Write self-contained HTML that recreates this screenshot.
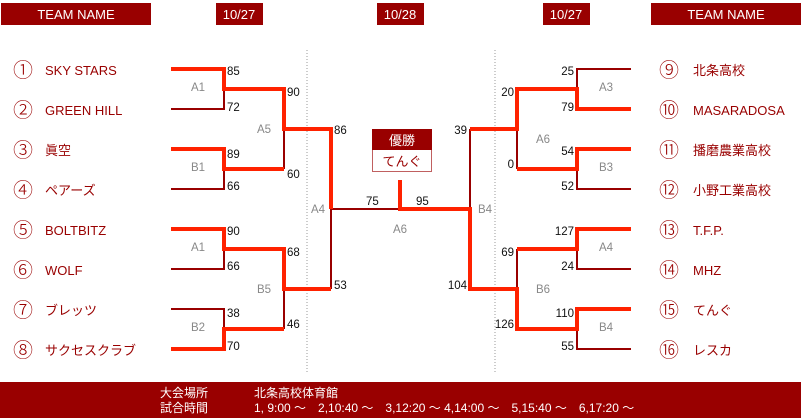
<!DOCTYPE html>
<html><head><meta charset="utf-8"><style>
html,body{margin:0;padding:0;background:#fff;width:801px;height:418px;overflow:hidden}
svg{display:block;font-family:"Liberation Sans","Noto Sans CJK JP",sans-serif}
.t{fill:#990000;font-size:13px}
.c{fill:#990000;font-size:20px;font-family:"Noto Sans CJK JP",sans-serif;font-weight:300}
.s{fill:#111;font-size:11.5px}
.g{fill:#888;font-size:11.5px}
.h{fill:#fff;font-size:13px}
.d{fill:none;stroke:#990000;stroke-width:2}
.r{fill:none;stroke:#ff2200;stroke-width:4}
</style></head><body>
<svg width="801" height="418" viewBox="0 0 801 418">
<rect x="1" y="3" width="150" height="22" fill="#990000"/>
<text x="76" y="19" class="h" text-anchor="middle">TEAM NAME</text>
<rect x="216" y="3" width="47" height="22" fill="#990000"/>
<text x="239" y="19" class="h" text-anchor="middle">10/27</text>
<rect x="377" y="3" width="47" height="22" fill="#990000"/>
<text x="400" y="19" class="h" text-anchor="middle">10/28</text>
<rect x="543" y="3" width="47" height="22" fill="#990000"/>
<text x="566" y="19" class="h" text-anchor="middle">10/27</text>
<rect x="651" y="3" width="150" height="22" fill="#990000"/>
<text x="726" y="19" class="h" text-anchor="middle">TEAM NAME</text>

<line x1="307" y1="50" x2="307" y2="372" stroke="#999" stroke-dasharray="1,2"/>
<line x1="495" y1="50" x2="495" y2="372" stroke="#999" stroke-dasharray="1,2"/>

<path class="d" d="M171 69H224V109H171M224 89H284 M171 149H224V189H171M224 169H284 M171 229H224V269H171M224 249H284 M171 309H224V349H171M224 329H284 M284 89V169M284 129H331 M284 249V329M284 289H331 M331 129V289M331 209H470 M631 69H577V109H631M577 89H517 M631 149H577V189H631M577 169H517 M631 229H577V269H631M577 249H517 M631 309H577V349H631M577 329H517 M517 89V169M517 129H470 M517 249V329M517 289H470 M470 129V289"/>
<path class="r" d="M171 69H224V89H284V129H331V209"/>
<path class="r" d="M171 149H224V169H284"/>
<path class="r" d="M171 229H224V249H284V289H331"/>
<path class="r" d="M171 349H224V329H284"/>
<path class="r" d="M400 180V209H470V289H517V329H577V309H631"/>
<path class="r" d="M631 109H577V89H517V129H470"/>
<path class="r" d="M631 149H577V169H517"/>
<path class="r" d="M631 229H577V249H517"/>

<rect x="372.5" y="129.5" width="59" height="42" fill="#fff" stroke="#c06060"/>
<rect x="372" y="129" width="60" height="21" fill="#990000"/>
<text x="402" y="145" class="h" text-anchor="middle">優勝</text>
<text x="402" y="166" class="t" text-anchor="middle">てんぐ</text>

<g class="c" text-anchor="middle">
<text x="23" y="77">①</text><text x="23" y="117">②</text><text x="23" y="157">③</text><text x="23" y="197">④</text>
<text x="23" y="237">⑤</text><text x="23" y="277">⑥</text><text x="23" y="317">⑦</text><text x="23" y="357">⑧</text>
<text x="669" y="77">⑨</text><text x="669" y="117">⑩</text><text x="669" y="157">⑪</text><text x="669" y="197">⑫</text>
<text x="669" y="237">⑬</text><text x="669" y="277">⑭</text><text x="669" y="317">⑮</text><text x="669" y="357">⑯</text>
</g>
<g class="t">
<text x="45" y="75">SKY STARS</text><text x="45" y="115">GREEN HILL</text><text x="45" y="155">眞空</text><text x="45" y="195">ペアーズ</text>
<text x="45" y="235">BOLTBITZ</text><text x="45" y="275">WOLF</text><text x="45" y="315">ブレッツ</text><text x="45" y="355">サクセスクラブ</text>
<text x="693" y="75">北条高校</text><text x="693" y="115">MASARADOSA</text><text x="693" y="155">播磨農業高校</text><text x="693" y="195">小野工業高校</text>
<text x="693" y="235">T.F.P.</text><text x="693" y="275">MHZ</text><text x="693" y="315">てんぐ</text><text x="693" y="355">レスカ</text>
</g>

<g class="s">
<text x="227" y="75">85</text><text x="227" y="111">72</text><text x="227" y="158">89</text><text x="227" y="190">66</text>
<text x="227" y="235">90</text><text x="227" y="270">66</text><text x="227" y="317">38</text><text x="227" y="350">70</text>
<text x="287" y="96">90</text><text x="287" y="178">60</text><text x="287" y="256">68</text><text x="287" y="328">46</text>
<text x="334" y="134">86</text><text x="334" y="289">53</text>
<text x="366" y="205">75</text><text x="416" y="205">95</text>
</g>
<g class="s" text-anchor="end">
<text x="467" y="134">39</text><text x="467" y="289">104</text>
<text x="514" y="96">20</text><text x="514" y="168">0</text><text x="514" y="256">69</text><text x="514" y="328">126</text>
<text x="574" y="75">25</text><text x="574" y="111">79</text><text x="574" y="155">54</text><text x="574" y="190">52</text>
<text x="574" y="235">127</text><text x="574" y="270">24</text><text x="574" y="317">110</text><text x="574" y="350">55</text>
</g>
<g class="g" text-anchor="middle">
<text x="198" y="91">A1</text><text x="198" y="171">B1</text><text x="198" y="251">A1</text><text x="198" y="331">B2</text>
<text x="264" y="133">A5</text><text x="264" y="293">B5</text>
<text x="318" y="213">A4</text><text x="400" y="233">A6</text><text x="485" y="213">B4</text>
<text x="543" y="143">A6</text><text x="543" y="293">B6</text>
<text x="606" y="91">A3</text><text x="606" y="171">B3</text><text x="606" y="251">A4</text><text x="606" y="331">B4</text>
</g>

<rect x="0" y="382" width="801" height="36" fill="#990000"/>
<g fill="#fff" font-size="12">
<text x="160" y="397">大会場所</text>
<text x="160" y="412">試合時間</text>
<text x="254" y="397">北条高校体育館</text>
<text x="254" y="412">1, 9:00 ～　2,10:40 ～　3,12:20 ～ 4,14:00 ～　5,15:40 ～　6,17:20 ～</text>
</g>
</svg>
</body></html>
